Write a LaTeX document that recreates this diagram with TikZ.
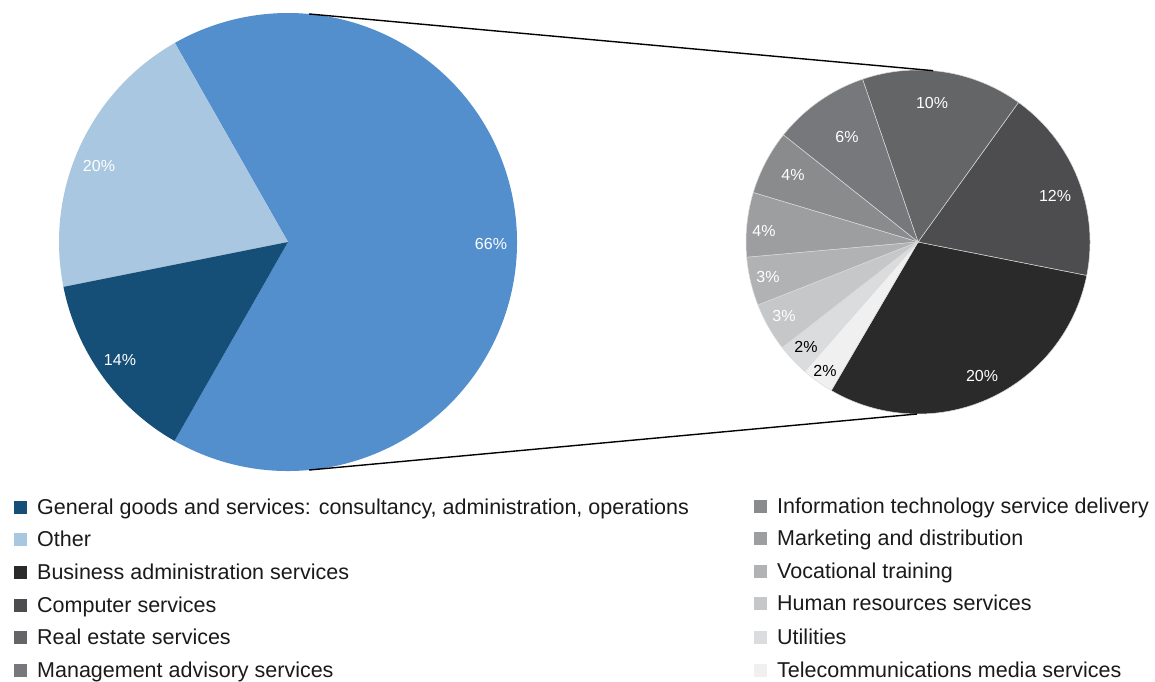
\documentclass[tikz,border=0pt]{standalone}
\usepackage{fontspec}
\setmainfont{Liberation Sans}
\definecolor{blueA}{HTML}{528FCC}
\definecolor{blueB}{HTML}{A9C7E0}
\definecolor{blueC}{HTML}{154F78}
\definecolor{gA}{HTML}{2A2A2A}
\definecolor{gB}{HTML}{4D4D4F}
\definecolor{gC}{HTML}{646567}
\definecolor{gD}{HTML}{77787B}
\definecolor{gE}{HTML}{8A8B8D}
\definecolor{gF}{HTML}{9D9EA0}
\definecolor{gG}{HTML}{B1B2B4}
\definecolor{gH}{HTML}{C6C7C8}
\definecolor{gI}{HTML}{DBDCDD}
\definecolor{gJ}{HTML}{EFF0EF}
\definecolor{txtc}{HTML}{1A1A1A}
\tikzset{
  lbl/.style={font=\fontsize{16}{19}\selectfont, text=white, inner sep=0pt},
  lblk/.style={lbl, text=black},
  legsq/.style={minimum size=12.5pt, inner sep=0pt, anchor=south west},
  legtxt/.style={font=\fontsize{21.5}{25}\selectfont, anchor=base west, inner sep=0pt, text=txtc},
  conn/.style={draw=black, line width=1.4pt},
  sep/.style={draw=white!85!black, line width=0.5pt}
}
\begin{document}
\begin{tikzpicture}[x=1pt,y=1pt]
\useasboundingbox (0,0) rectangle (1155,681);
% big pie
\coordinate (C1) at (288,439);
\fill[blueA] (C1) -- ++(-119.7:229) arc[start angle=-119.7, end angle=119.6, radius=229] -- cycle;
\fill[blueB] (C1) -- ++(119.6:229) arc[start angle=119.6, end angle=191.3, radius=229] -- cycle;
\fill[blueC] (C1) -- ++(191.3:229) arc[start angle=191.3, end angle=240.3, radius=229] -- cycle;
% small pie
\coordinate (C2) at (918,439);
\foreach \a/\b/\c in {239.7/348.8/gA, 348.8/414.25/gB, 54.25/108.8/gC, 108.8/141.5/gD, 141.5/163.3/gE, 163.3/185.1/gF, 185.1/201.5/gG, 201.5/217.9/gH, 217.9/228.8/gI, 228.8/239.7/gJ}
  \filldraw[fill=\c, sep] (C2) -- ++(\a:172) arc[start angle=\a, end angle=\b, radius=172] -- cycle;
% connectors
\coordinate (bt) at ([shift={(84.7:229)}]C1);
\coordinate (bb) at ([shift={(-84.7:229)}]C1);
\coordinate (st) at ([shift={(85:172)}]C2);
\coordinate (sb) at ([shift={(-90.3:172)}]C2);
\draw[conn] (bt) -- (st);
\draw[conn] (bb) -- (sb);
% labels big
\node[lbl] (l66) at (491,437) {66\%};
\node[lbl] (l20) at (99,515) {20\%};
\node[lbl] (l14) at (120,321) {14\%};
% labels small
\node[lbl] (s10) at (932,578) {10\%};
\node[lbl] (s12) at (1055,485) {12\%};
\node[lbl] (s6) at (847,544) {6\%};
\node[lbl] (s4a) at (793,506) {4\%};
\node[lbl] (s4b) at (764,450) {4\%};
\node[lbl] (s3a) at (768,404) {3\%};
\node[lbl] (s3b) at (784,365) {3\%};
\node[lblk] (s2a) at (806,334) {2\%};
\node[lblk] (s2b) at (825,310) {2\%};
\node[lbl] (s20) at (982,305) {20\%};
% legend left
\node[legsq, fill=blueC] (q1) at (14,167) {};
\node[legtxt] (t1) at (37,167) {General goods and services: consultancy, administration, operations};
\node[legsq, fill=blueB] (q2) at (14,135) {};
\node[legtxt] (t2) at (37,135) {Other};
\node[legsq, fill=gA] (q3) at (14,102) {};
\node[legtxt] (t3) at (37,102) {Business administration services};
\node[legsq, fill=gB] (q4) at (14,69) {};
\node[legtxt] (t4) at (37,69) {Computer services};
\node[legsq, fill=gC] (q5) at (14,37) {};
\node[legtxt] (t5) at (37,37) {Real estate services};
\node[legsq, fill=gD] (q6) at (14,4) {};
\node[legtxt] (t6) at (37,4) {Management advisory services};
% legend right
\node[legsq, fill=gE] (r1) at (754,168) {};
\node[legtxt] (u1) at (777,168) {Information technology service delivery};
\node[legsq, fill=gF] (r2) at (754,136) {};
\node[legtxt] (u2) at (777,136) {Marketing and distribution};
\node[legsq, fill=gG] (r3) at (754,103) {};
\node[legtxt] (u3) at (777,103) {Vocational training};
\node[legsq, fill=gH] (r4) at (754,71) {};
\node[legtxt] (u4) at (777,71) {Human resources services};
\node[legsq, fill=gI] (r5) at (754,37) {};
\node[legtxt] (u5) at (777,37) {Utilities};
\node[legsq, fill=gJ] (r6) at (754,4) {};
\node[legtxt] (u6) at (777,4) {Telecommunications media services};
\end{tikzpicture}
\end{document}
